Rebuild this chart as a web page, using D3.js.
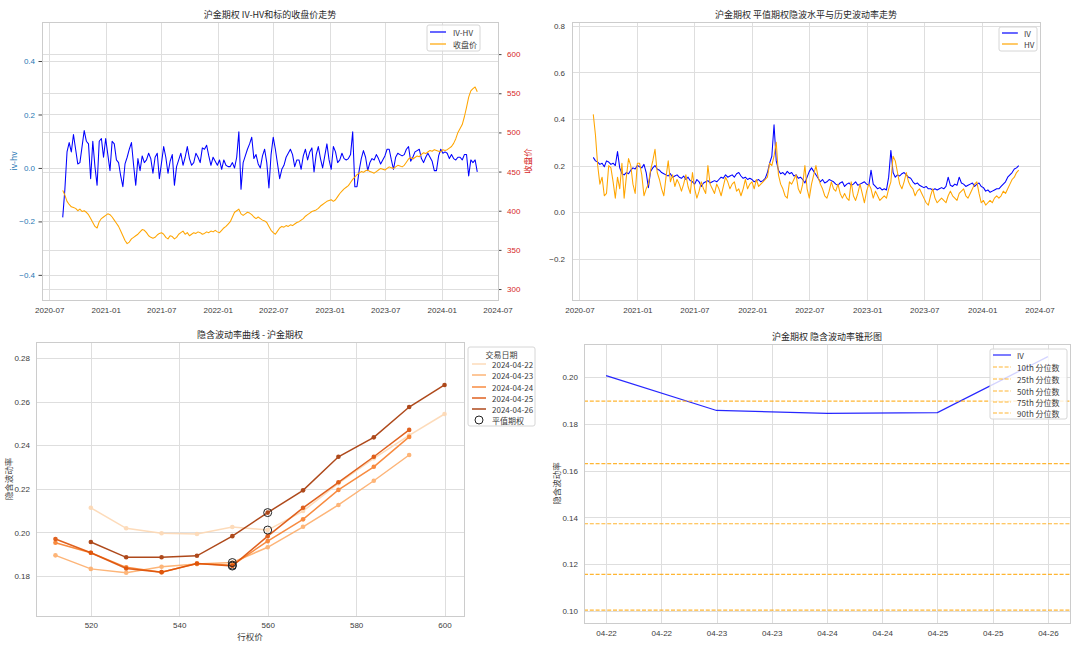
<!DOCTYPE html>
<html><head><meta charset="utf-8">
<script src="https://cdn.jsdelivr.net/npm/d3@7/dist/d3.min.js"></script>
<style>
html,body{margin:0;padding:0;background:#fff;}
svg{display:block;font-family:"Noto Sans CJK SC","Noto Sans",sans-serif;}
</style></head><body>
<svg id="chart" width="1080" height="646"></svg>
<script>
// ================= DATA =================
// weekly observations starting at this date
const weekStart = "2020-08-14";
// IV-HV (top-left, left axis)
const ivhv = [
-.185,-.08,.06,.095,.06,.125,.07,.015,.02,.08,
.14,.1,.09,-.04,.1,.005,-.065,.1,.11,.04,
.11,.05,-.01,.1,.09,.03,.02,-.03,-.07,.015,
.04,.07,.095,.01,-.065,.035,-.01,.045,.02,.03,
.055,.035,-.02,.04,.055,-.04,.02,.08,.04,-.02,
.025,.05,-.065,.005,.03,.055,.01,.04,.08,.035,
.01,.02,.055,.04,.02,.075,.07,.085,.045,.01,
.04,.025,.01,.03,-.005,.03,.01,.005,.005,.02,
0,.04,.135,-.08,.02,.045,.07,.09,.115,.035,
.05,.015,0,.045,.07,.02,-.075,.05,.115,.07,
.015,-.04,-.005,.01,.04,.055,.07,.05,.005,.03,
.03,-.005,.045,.07,.03,.06,.075,-.015,.05,.08,
.035,0,.045,.09,.03,-.005,.08,.06,.02,.03,
.055,.035,.03,.035,.05,.135,-.07,-.07,-.01,.035,
.065,.04,-.01,.02,.035,.03,.05,.035,.015,.03,
.045,.07,.07,.03,-.005,.04,.055,.05,.045,.05,
.07,.08,.025,.04,.06,.065,.07,.035,.02,.04,
.055,.04,.025,-.01,-.01,.045,.07,.055,.06,.055,
.035,.05,.035,.03,.04,.04,.03,.05,.05,-.03,
.03,.02,.03,-.015];
// underlying close price (top-left, right axis)
const closePrice = [
426,420,412,408,405,404,403,400,402,399,
400,398,395,390,385,380,378,386,390,392,
394,396,395,392,388,384,380,374,368,362,
358,360,364,366,368,370,373,376,375,372,
368,366,365,366,369,371,372,370,366,364,
368,367,364,366,370,372,374,370,372,368,
370,372,371,373,372,370,371,373,372,374,
373,375,373,372,375,378,380,383,386,392,
398,400,402,396,394,396,398,397,395,392,
390,392,390,388,387,385,380,375,372,370,
374,378,380,379,381,380,382,381,383,385,
386,388,390,393,395,397,399,400,401,403,
406,408,410,412,413,414,412,414,418,422,
425,428,430,432,436,440,443,446,448,450,
449,451,452,450,449,448,450,452,454,453,
452,454,456,455,454,456,458,457,456,458,
462,466,468,466,468,470,469,472,474,473,
475,477,476,478,477,476,475,478,477,478,
480,482,486,492,500,505,510,520,532,545,
553,556,558,552];
// ATM implied vol (top-right)
const ivSeries = [
.235,.22,.215,.205,.21,.195,.22,.215,.205,.21,
.2,.26,.19,.165,.16,.17,.165,.18,.19,.185,
.2,.195,.19,.205,.17,.105,.175,.19,.2,.185,
.18,.17,.165,.16,.155,.165,.15,.155,.16,.15,
.145,.155,.14,.15,.135,.13,.12,.14,.13,.11,
.125,.13,.135,.125,.13,.135,.13,.14,.15,.145,
.16,.15,.155,.16,.15,.165,.17,.155,.145,.15,
.14,.145,.14,.13,.135,.14,.13,.135,.145,.17,
.21,.24,.375,.22,.18,.165,.17,.16,.175,.165,
.17,.155,.16,.145,.15,.14,.125,.15,.175,.19,
.175,.16,.145,.13,.14,.125,.13,.14,.135,.13,
.12,.115,.125,.13,.11,.12,.125,.115,.12,.13,
.115,.12,.125,.13,.12,.115,.18,.12,.11,.1,
.105,.095,.1,.095,.15,.265,.17,.15,.16,.155,
.165,.17,.16,.15,.145,.13,.12,.125,.115,.11,
.105,.11,.1,.1,.095,.1,.095,.1,.105,.1,
.11,.15,.115,.11,.12,.115,.15,.125,.12,.11,
.115,.12,.125,.11,.12,.125,.11,.105,.09,.095,
.085,.09,.095,.1,.1,.11,.12,.13,.15,.16,
.17,.185,.19,.2];
// historical vol (top-right)
const hvSeries = [
.42,.33,.2,.12,.15,.07,.08,.2,.19,.13,
.06,.15,.1,.21,.06,.15,.23,.2,.12,.08,
.21,.21,.16,.07,.1,.12,.18,.22,.27,.17,
.14,.1,.07,.15,.22,.13,.16,.11,.14,.12,
.09,.12,.16,.11,.08,.17,.1,.06,.09,.13,
.1,.08,.2,.12,.1,.08,.12,.1,.07,.11,
.15,.13,.1,.12,.13,.09,.1,.07,.1,.14,
.1,.12,.13,.1,.14,.11,.12,.13,.14,.15,
.21,.2,.24,.3,.16,.12,.1,.07,.06,.13,
.12,.14,.16,.1,.08,.12,.2,.1,.06,.12,
.16,.2,.15,.12,.1,.07,.06,.09,.13,.1,
.09,.12,.08,.06,.08,.06,.05,.13,.07,.05,
.08,.12,.08,.04,.09,.12,.1,.06,.09,.07,
.05,.06,.07,.06,.1,.13,.24,.22,.17,.12,
.1,.13,.17,.13,.11,.1,.07,.09,.1,.08,
.06,.04,.03,.07,.1,.06,.04,.05,.06,.05,
.04,.07,.09,.07,.06,.05,.08,.09,.1,.07,
.06,.08,.1,.12,.13,.08,.04,.05,.03,.04,
.05,.04,.06,.07,.06,.07,.09,.08,.1,.12,
.14,.15,.17,.18];
const halfYearTickLabels = ["2020-07","2021-01","2021-07","2022-01","2022-07","2023-01","2023-07","2024-01","2024-07"];
const ivhvTicks = [-0.4,-0.2,0,0.2,0.4];
const priceTicks = [300,350,400,450,500,550,600];
const volTicks = [-0.2,0,0.2,0.4,0.6,0.8];

// smile (bottom-left)
const strikes = [512,520,528,536,544,552,560,568,576,584,592,600];
const strikeTicks = [520,540,560,580,600];
const smileDates = ["2024-04-22","2024-04-23","2024-04-24","2024-04-25","2024-04-26"];
const smile0422 = [null,0.2113,0.2019,0.1996,0.1993,0.2025,0.2011,0.2098,0.2225,0.2340,0.2445,0.2543];
const smile0423 = [0.1895,0.1833,0.1815,0.1843,0.1855,0.1862,0.1932,0.2026,0.2126,0.2237,0.2355,null];
const smile0424 = [0.1953,0.1907,0.1840,0.1818,0.1858,0.1850,0.1960,0.2060,0.2195,0.2301,0.2438,null];
const smile0425 = [0.1970,0.1907,0.1835,0.1818,0.1858,0.1846,0.1983,0.2113,0.2230,0.2347,0.2470,null];
const smile0426 = [null,0.1956,0.1886,0.1886,0.1893,0.1983,0.2091,0.2193,0.2347,0.2436,0.2575,0.2676];
const atmStrike = [560,552,552,552,560];
const atmIV = [0.2011,0.1862,0.1850,0.1846,0.2091];
const smileYTicks = [0.18,0.20,0.22,0.24,0.26,0.28];

// cone (bottom-right)
const coneDates = ["2024-04-22","2024-04-23","2024-04-24","2024-04-25","2024-04-26"];
const coneIV = [0.2006,0.1857,0.1845,0.1848,0.2087];
const pctLabels = ["10th 分位数","25th 分位数","50th 分位数","75th 分位数","90th 分位数"];
const pctValues = [0.1004,0.1157,0.1373,0.1630,0.1897];
const coneYTicks = [0.10,0.12,0.14,0.16,0.18,0.20];

// ================= DRAW =================
const svg = d3.select("#chart");
const GRID = "#dedede", SPINE = "#cccccc", TXT = "#3c3c3c", TITLE = "#262626";
const FS = 8;
const LW = 1.05;
const parseDay = d3.timeParse("%Y-%m-%d");
const start = parseDay(weekStart);
const weeks = ivhv.map((_, i) => d3.timeDay.offset(start, 7 * i));
const halfTicks = halfYearTickLabels.map(d3.timeParse("%Y-%m"));

function padDomain(ext, f) { const p = (ext[1] - ext[0]) * f; return [+ext[0] - p, +ext[1] + p]; }
function gridAxis(gen, tx, ty, color, fs) {
  const g = svg.append("g").attr("transform", `translate(${tx},${ty})`).call(gen);
  g.select(".domain").remove();
  g.selectAll(".tick line").attr("stroke", GRID).attr("stroke-width", 1).attr("shape-rendering", "crispEdges");
  g.selectAll(".tick text").attr("fill", color || TXT).attr("font-size", fs || FS);
  return g;
}
function tickMarks(gen, tx, ty) {
  const g = svg.append("g").attr("transform", `translate(${tx},${ty})`).call(gen);
  g.select(".domain").remove();
  g.selectAll(".tick line").attr("stroke", "#444").attr("stroke-width", 1);
  g.selectAll(".tick text").remove();
}
function spines(b) {
  svg.append("rect").attr("x", b.x0).attr("y", b.y0).attr("width", b.x1 - b.x0).attr("height", b.y1 - b.y0)
    .attr("fill", "none").attr("stroke", SPINE).attr("stroke-width", 1).attr("shape-rendering", "crispEdges");
}
function title(text, x, y) {
  svg.append("text").attr("x", x).attr("y", y).attr("text-anchor", "middle").attr("font-size", 9).attr("fill", TITLE).text(text);
}
function vlabel(text, x, y, color) {
  svg.append("text").attr("transform", `translate(${x},${y}) rotate(-90)`).attr("text-anchor", "middle")
    .attr("dominant-baseline", "central").attr("font-size", 8.5).attr("fill", color || TXT).text(text);
}
function clip(id, b) {
  svg.append("clipPath").attr("id", id).append("rect").attr("x", b.x0).attr("y", b.y0).attr("width", b.x1 - b.x0).attr("height", b.y1 - b.y0);
  return `url(#${id})`;
}
function legendBox(x, y, w, h) {
  svg.append("rect").attr("x", x).attr("y", y).attr("width", w).attr("height", h).attr("rx", 2)
    .attr("fill", "#fff").attr("fill-opacity", 0.8).attr("stroke", "#d6d6d6").attr("stroke-width", 1);
}

// ---------- Top-left ----------
const TL = { x0: 42, x1: 498, y0: 22, y1: 300 };
const xTL = d3.scaleTime().domain(padDomain(d3.extent(weeks), 0.05)).range([TL.x0, TL.x1]);
const yTL = d3.scaleLinear().domain([-0.494, 0.546]).range([TL.y1, TL.y0]);
const yTLr = d3.scaleLinear().domain([286, 641]).range([TL.y1, TL.y0]);
gridAxis(d3.axisBottom(xTL).tickValues(halfTicks).tickFormat(d3.timeFormat("%Y-%m")).tickSize(-(TL.y1 - TL.y0)).tickPadding(7), 0, TL.y1);
gridAxis(d3.axisLeft(yTL).tickValues(ivhvTicks).tickFormat(d3.format(".1f")).tickSize(-(TL.x1 - TL.x0)).tickPadding(7), TL.x0, 0, "#1f77b4");
gridAxis(d3.axisRight(yTLr).tickValues(priceTicks).tickFormat(d3.format("d")).tickSize(-(TL.x1 - TL.x0)).tickPadding(9), TL.x1, 0, "#d62728");
tickMarks(d3.axisLeft(yTL).tickValues(ivhvTicks).tickSize(3.5), TL.x0, 0);
tickMarks(d3.axisRight(yTLr).tickValues(priceTicks).tickSize(3.5), TL.x1, 0);
const cTL = clip("cTL", TL);
svg.append("path").datum(ivhv).attr("clip-path", cTL)
  .attr("d", d3.line().x((d, i) => xTL(weeks[i])).y(d => yTL(d)))
  .attr("fill", "none").attr("stroke", "blue").attr("stroke-width", LW).attr("stroke-linejoin", "round");
svg.append("path").datum(closePrice).attr("clip-path", cTL)
  .attr("d", d3.line().x((d, i) => xTL(weeks[i])).y(d => yTLr(d)))
  .attr("fill", "none").attr("stroke", "orange").attr("stroke-width", LW).attr("stroke-linejoin", "round");
spines(TL);
title("沪金期权 IV-HV和标的收盘价走势", (TL.x0 + TL.x1) / 2, 18);
vlabel("iv-hv", 13, (TL.y0 + TL.y1) / 2, "#1f77b4");
vlabel("收盘价", 527, (TL.y0 + TL.y1) / 2, "#d62728");
legendBox(427, 25, 53, 26);
[["IV-HV", "blue", 32], ["收盘价", "orange", 44]].forEach(([t, c, y]) => {
  svg.append("line").attr("x1", 430).attr("x2", 446).attr("y1", y).attr("y2", y).attr("stroke", c).attr("stroke-width", 1.2);
  svg.append("text").attr("x", 453).attr("y", y).attr("dominant-baseline", "central").attr("font-size", FS).attr("fill", TXT).text(t);
});

// ---------- Top-right ----------
const TR = { x0: 572, x1: 1040, y0: 22, y1: 300 };
const xTR = d3.scaleTime().domain(padDomain(d3.extent(weeks), 0.05)).range([TR.x0, TR.x1]);
const yTR = d3.scaleLinear().domain([-0.378, 0.817]).range([TR.y1, TR.y0]);
gridAxis(d3.axisBottom(xTR).tickValues(halfTicks).tickFormat(d3.timeFormat("%Y-%m")).tickSize(-(TR.y1 - TR.y0)).tickPadding(7), 0, TR.y1);
gridAxis(d3.axisLeft(yTR).tickValues(volTicks).tickFormat(d3.format(".1f")).tickSize(-(TR.x1 - TR.x0)).tickPadding(7), TR.x0, 0);
const cTR = clip("cTR", TR);
svg.append("path").datum(ivSeries).attr("clip-path", cTR)
  .attr("d", d3.line().x((d, i) => xTR(weeks[i])).y(d => yTR(d)))
  .attr("fill", "none").attr("stroke", "blue").attr("stroke-width", LW).attr("stroke-linejoin", "round");
svg.append("path").datum(hvSeries).attr("clip-path", cTR)
  .attr("d", d3.line().x((d, i) => xTR(weeks[i])).y(d => yTR(d)))
  .attr("fill", "none").attr("stroke", "orange").attr("stroke-width", LW).attr("stroke-linejoin", "round");
spines(TR);
title("沪金期权 平值期权隐波水平与历史波动率走势", (TR.x0 + TR.x1) / 2, 18);
legendBox(999, 27, 38, 24);
[["IV", "blue", 33], ["HV", "orange", 44]].forEach(([t, c, y]) => {
  svg.append("line").attr("x1", 1002).attr("x2", 1018).attr("y1", y).attr("y2", y).attr("stroke", c).attr("stroke-width", 1.2);
  svg.append("text").attr("x", 1024).attr("y", y).attr("dominant-baseline", "central").attr("font-size", FS).attr("fill", TXT).text(t);
});

// ---------- Bottom-left ----------
const BL = { x0: 36, x1: 464, y0: 342, y1: 616 };
const xBL = d3.scaleLinear().domain(padDomain(d3.extent(strikes), 0.05)).range([BL.x0, BL.x1]);
const yBL = d3.scaleLinear().domain([0.1617, 0.2873]).range([BL.y1, BL.y0]);
gridAxis(d3.axisBottom(xBL).tickValues(strikeTicks).tickFormat(d3.format("d")).tickSize(-(BL.y1 - BL.y0)).tickPadding(6), 0, BL.y1);
gridAxis(d3.axisLeft(yBL).tickValues(smileYTicks).tickFormat(d3.format(".2f")).tickSize(-(BL.x1 - BL.x0)).tickPadding(6), BL.x0, 0);
const smiles = [smile0422, smile0423, smile0424, smile0425, smile0426];
const smileT = [0.2, 0.38, 0.55, 0.72, 0.88];
const smileColors = smileT.map(t => d3.interpolateOranges(t));
const cBL = clip("cBL", BL);
smiles.forEach((s, k) => {
  const pts = strikes.map((x, i) => [x, s[i]]).filter(p => p[1] != null);
  const g = svg.append("g").attr("clip-path", cBL).attr("opacity", 0.9);
  g.append("path").datum(pts).attr("d", d3.line().x(p => xBL(p[0])).y(p => yBL(p[1])))
    .attr("fill", "none").attr("stroke", smileColors[k]).attr("stroke-width", 1.5);
  g.selectAll("circle").data(pts).join("circle").attr("cx", p => xBL(p[0])).attr("cy", p => yBL(p[1])).attr("r", 2.3).attr("fill", smileColors[k]);
});
atmStrike.forEach((s, k) => {
  svg.append("circle").attr("cx", xBL(s)).attr("cy", yBL(atmIV[k])).attr("r", 4).attr("fill", "none").attr("stroke", "#222").attr("stroke-width", 1);
});
spines(BL);
title("隐含波动率曲线 - 沪金期权", (BL.x0 + BL.x1) / 2, 338);
svg.append("text").attr("x", (BL.x0 + BL.x1) / 2).attr("y", 640).attr("text-anchor", "middle").attr("font-size", 8.5).attr("fill", TXT).text("行权价");
vlabel("隐含波动率", 8, (BL.y0 + BL.y1) / 2);
legendBox(468, 347, 67, 79);
svg.append("text").attr("x", 501.5).attr("y", 354).attr("text-anchor", "middle").attr("dominant-baseline", "central").attr("font-size", FS).attr("fill", TXT).text("交易日期");
const blRows = [364, 375, 387, 398, 409];
smileDates.forEach((d, k) => {
  svg.append("line").attr("x1", 472).attr("x2", 486).attr("y1", blRows[k]).attr("y2", blRows[k]).attr("stroke", smileColors[k]).attr("stroke-width", 1.5).attr("opacity", 0.9);
  svg.append("text").attr("x", 492).attr("y", blRows[k]).attr("dominant-baseline", "central").attr("font-size", FS).attr("fill", TXT).text(d);
});
svg.append("circle").attr("cx", 479).attr("cy", 420).attr("r", 4).attr("fill", "none").attr("stroke", "#222").attr("stroke-width", 1);
svg.append("text").attr("x", 492).attr("y", 420).attr("dominant-baseline", "central").attr("font-size", FS).attr("fill", TXT).text("平值期权");

// ---------- Bottom-right ----------
const BR = { x0: 584, x1: 1070, y0: 344, y1: 623 };
const coneT = coneDates.map(parseDay);
const xBR = d3.scaleTime().domain(padDomain(d3.extent(coneT), 0.05)).range([BR.x0, BR.x1]);
const yBR = d3.scaleLinear().domain([0.0949, 0.2141]).range([BR.y1, BR.y0]);
const halfDayTicks = d3.timeHour.every(12).range(coneT[0], d3.timeHour.offset(coneT[4], 1));
gridAxis(d3.axisBottom(xBR).tickValues(halfDayTicks).tickFormat(d3.timeFormat("%m-%d")).tickSize(-(BR.y1 - BR.y0)).tickPadding(7), 0, BR.y1);
gridAxis(d3.axisLeft(yBR).tickValues(coneYTicks).tickFormat(d3.format(".2f")).tickSize(-(BR.x1 - BR.x0)).tickPadding(6), BR.x0, 0);
const cBR = clip("cBR", BR);
svg.append("path").datum(coneIV).attr("clip-path", cBR)
  .attr("d", d3.line().x((d, i) => xBR(coneT[i])).y(d => yBR(d)))
  .attr("fill", "none").attr("stroke", "blue").attr("stroke-width", 1.2).attr("opacity", 0.85);
pctValues.forEach(v => {
  svg.append("line").attr("clip-path", cBR).attr("x1", BR.x0).attr("x2", BR.x1).attr("y1", yBR(v)).attr("y2", yBR(v))
    .attr("stroke", "orange").attr("stroke-width", 1.2).attr("stroke-dasharray", "4,1.8").attr("opacity", 0.8);
});
spines(BR);
title("沪金期权 隐含波动率锥形图", (BR.x0 + BR.x1) / 2, 340);
vlabel("隐含波动率", 556, (BR.y0 + BR.y1) / 2);
legendBox(990, 349, 77, 70);
const brRows = [355, 367, 379, 391, 402, 413];
svg.append("line").attr("x1", 993).attr("x2", 1011).attr("y1", brRows[0]).attr("y2", brRows[0]).attr("stroke", "blue").attr("stroke-width", 1.2).attr("opacity", 0.85);
svg.append("text").attr("x", 1017).attr("y", brRows[0]).attr("dominant-baseline", "central").attr("font-size", FS).attr("fill", TXT).text("IV");
pctLabels.forEach((t, k) => {
  const y = brRows[k + 1];
  svg.append("line").attr("x1", 993).attr("x2", 1011).attr("y1", y).attr("y2", y).attr("stroke", "orange").attr("stroke-width", 1.2).attr("stroke-dasharray", "4,1.8").attr("opacity", 0.8);
  svg.append("text").attr("x", 1017).attr("y", y).attr("dominant-baseline", "central").attr("font-size", FS).attr("fill", TXT).text(t);
});
</script>
</body></html>
